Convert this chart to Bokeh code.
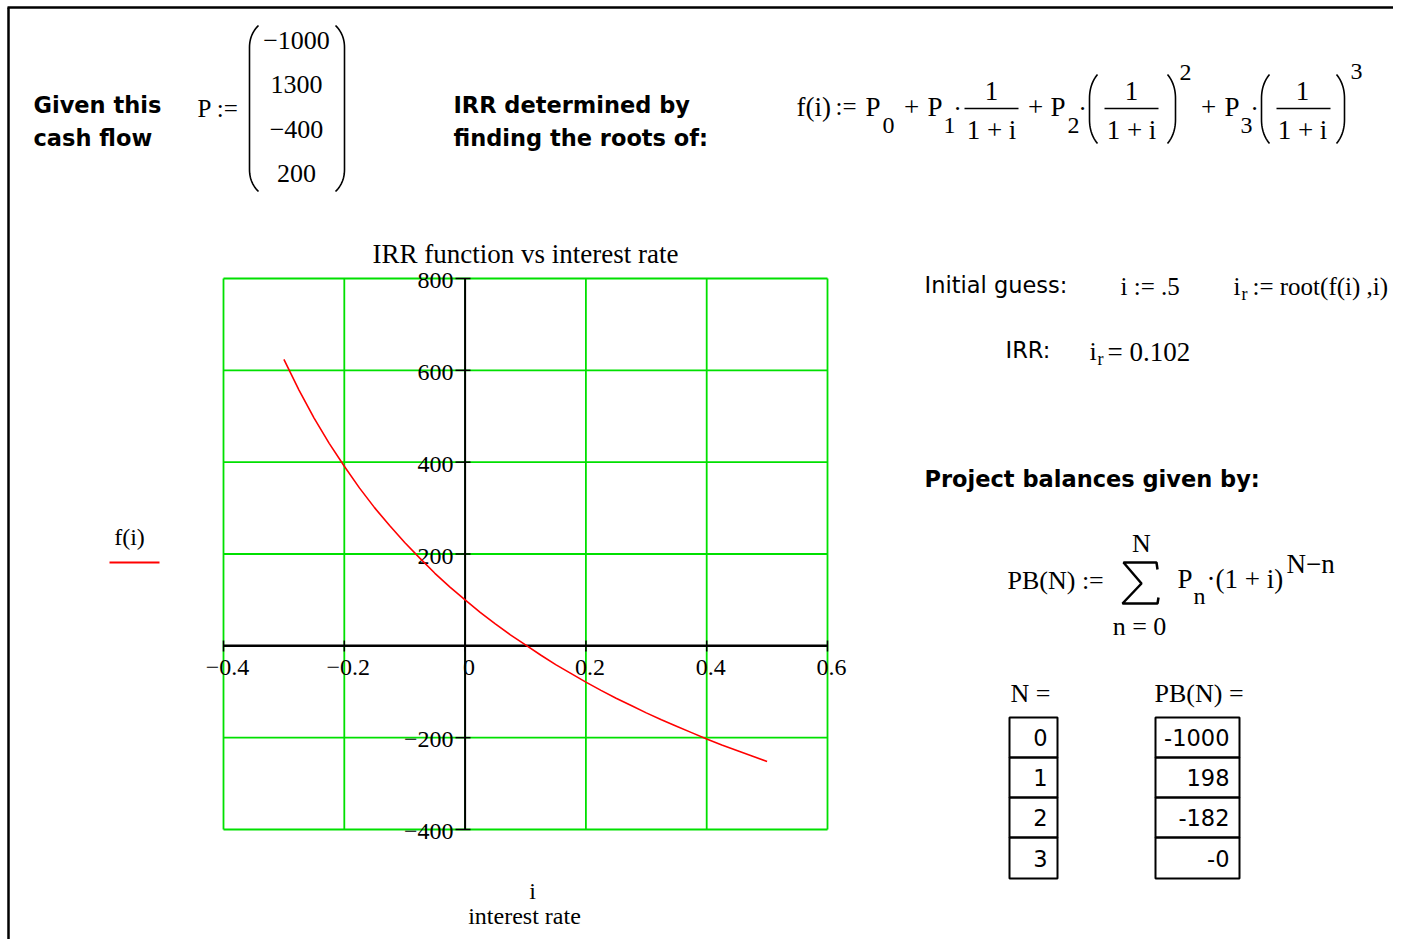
import numpy as np
from bokeh.plotting import figure
from bokeh.models import Range1d
from bokeh.core.properties import value
from bokeh.embed import file_html
from bokeh.resources import INLINE

# ---------------- data ----------------
cash_flow = [-1000, 1300, -400, 200]
cash_flow_labels = ["\u22121000", "1300", "\u2212400", "200"]

rate = [-0.300, -0.275, -0.250, -0.225, -0.200, -0.175, -0.150, -0.125,
        -0.100, -0.075, -0.050, -0.025, 0.000, 0.025, 0.050, 0.075,
        0.100, 0.125, 0.150, 0.175, 0.200, 0.225, 0.250, 0.275,
        0.300, 0.325, 0.350, 0.375, 0.400, 0.425, 0.450, 0.475, 0.500]
f_value = [624, 557, 496, 441, 391, 344, 301, 262,
           225, 191, 158, 128, 100, 73, 48, 24,
           2, -20, -41, -60, -79, -97, -114, -130,
           -146, -161, -175, -189, -203, -216, -228, -240, -252]

x_ticks = [-0.4, -0.2, 0.0, 0.2, 0.4, 0.6]
x_tick_labels = ["\u22120.4", "\u22120.2", "0", "0.2", "0.4", "0.6"]
y_ticks = [-400, -200, 0, 200, 400, 600, 800]
y_tick_labels = ["\u2212400", "\u2212200", "", "200", "400", "600", "800"]

periods = ["0", "1", "2", "3"]
balances = ["-1000", "198", "-182", "-0"]
irr_text = "0.102"
guess_text = ".5"

# ---------------- page / canvas ----------------
W, H = 1393, 939
OX, OY = 0, 0
SERIF = "Liberation Serif"
SANS = "DejaVu Sans"
GREEN = "#00e000"

p = figure(width=W, height=H,
           x_range=Range1d(OX, OX + W), y_range=Range1d(OY + H, OY),
           output_backend="svg", toolbar_location=None,
           x_axis_location=None, y_axis_location=None,
           min_border=0, outline_line_color=None,
           background_fill_color="white", border_fill_color="white")
p.grid.visible = False

# chart plot-area placement (pixels on page)
PL, PR, PT, PBOT = 223, 827, 278, 829
xmin, xmax = x_ticks[0], x_ticks[-1]
ymin, ymax = y_ticks[0], y_ticks[-1]
sx = (xmax - xmin) / (PR - PL)
sy = (ymax - ymin) / (PBOT - PT)
p.extra_x_ranges = {"rate": Range1d(xmin - (PL - OX) * sx, xmax + (OX + W - PR) * sx)}
p.extra_y_ranges = {"fval": Range1d(ymin - (OY + H - PBOT) * sy, ymax + (PT - OY) * sy)}


def T(x, y, s, size=26, font=SERIF, align="left", bold=False, color="black"):
    p.text(x=[x], y=[y], text=[s], text_font=value(font),
           text_font_size=f"{size}px", text_align=align,
           text_baseline="middle", text_color=color,
           text_font_style="bold" if bold else "normal")


def L(xs, ys, w=1.5, color="black"):
    p.line(x=list(xs), y=list(ys), line_color=color, line_width=w)


def paren(xl, y0, y1, w, h, side, lw=1.6):
    sg = 1 if side == "left" else -1
    t = np.linspace(0, 1, 14)
    tip = np.array([xl + sg * w, y0])
    ctl = np.array([xl, y0 + 0.4 * h])
    jnt = np.array([xl, y0 + h])
    top = [((1 - a) ** 2) * tip + 2 * (1 - a) * a * ctl + a * a * jnt for a in t]
    tipb = np.array([xl + sg * w, y1])
    ctlb = np.array([xl, y1 - 0.4 * h])
    jntb = np.array([xl, y1 - h])
    bot = [((1 - a) ** 2) * jntb + 2 * (1 - a) * a * ctlb + a * a * tipb for a in t]
    pts = top + bot
    L([q[0] for q in pts], [q[1] for q in pts], w=lw)


# border of the worksheet window
L([7, OX + W], [7, 7], w=2.5)
L([8, 8], [7, OY + H], w=2.5)

# ---------------- header ----------------
T(33, 104, "Given this", 22.5, SANS, bold=True)
T(33, 137, "cash flow", 22.5, SANS, bold=True)
T(197, 108, "P :=", 25)
paren(249, 25, 191, 9, 22, "left")
paren(344, 25, 191, 9, 22, "right")
for k, lab in enumerate(cash_flow_labels):
    T(296, [40, 84, 129, 173][k], lab, 26, align="center")

T(453, 104, "IRR determined by", 22.5, SANS, bold=True)
T(453, 137, "finding the roots of:", 22.5, SANS, bold=True)

# f(i) definition
T(796, 106, "f(i)", 27)
T(835, 106, ":=", 25)
T(865, 106, "P", 27)
T(882, 125, "0", 24)
T(911, 106, "+", 27, align="center")
T(927, 106, "P", 27)
T(943, 125, "1", 24)
T(957, 108, "\u00b7", 26, align="center")
T(991, 90, "1", 27, align="center")
L([964, 1018], [108, 108], w=1.5)
T(991, 129, "1 + i", 27, align="center")
T(1035, 106, "+", 27, align="center")
T(1050, 106, "P", 27)
T(1067, 125, "2", 24)
T(1082, 108, "\u00b7", 26, align="center")
paren(1089, 74, 143, 8, 24, "left")
T(1131, 90, "1", 27, align="center")
L([1104, 1158], [108, 108], w=1.5)
T(1131, 129, "1 + i", 27, align="center")
paren(1175, 74, 143, 8, 24, "right")
T(1185, 72, "2", 24, align="center")
T(1208, 106, "+", 27, align="center")
T(1224, 106, "P", 27)
T(1240, 125, "3", 24)
T(1254, 108, "\u00b7", 26, align="center")
paren(1261, 74, 143, 8, 24, "left")
T(1302, 90, "1", 27, align="center")
L([1276, 1330], [108, 108], w=1.5)
T(1302, 129, "1 + i", 27, align="center")
paren(1344, 74, 143, 8, 24, "right")
T(1356, 71, "3", 24, align="center")

# ---------------- chart ----------------
T(525, 253, "IRR function vs interest rate", 27, align="center")

nx, ny = len(x_ticks), len(y_ticks)
p.segment(x0=x_ticks, y0=[ymin] * nx, x1=x_ticks, y1=[ymax] * nx,
          x_range_name="rate", y_range_name="fval", line_color=GREEN, line_width=1.8)
p.segment(x0=[xmin] * ny, y0=y_ticks, x1=[xmax] * ny, y1=y_ticks,
          x_range_name="rate", y_range_name="fval", line_color=GREEN, line_width=1.8)

# crossing axes
p.segment(x0=[0], y0=[ymin], x1=[0], y1=[ymax], x_range_name="rate",
          y_range_name="fval", line_color="black", line_width=2)
p.segment(x0=[xmin], y0=[0], x1=[xmax], y1=[0], x_range_name="rate",
          y_range_name="fval", line_color="black", line_width=2.5)
p.segment(x0=[455] * ny, x1=[470] * ny, y0=y_ticks, y1=y_ticks,
          y_range_name="fval", line_color="black", line_width=1.5)
p.segment(x0=x_ticks, x1=x_ticks, y0=[640] * nx, y1=[651] * nx,
          x_range_name="rate", line_color="black", line_width=1.5)

p.text(x=[453] * ny, y=y_ticks, text=y_tick_labels, y_range_name="fval",
       text_font=value(SERIF), text_font_size="24px", text_align="right",
       text_baseline="middle", y_offset=2, text_color="black")
p.text(x=x_ticks, y=[667] * nx, text=x_tick_labels, x_range_name="rate",
       text_font=value(SERIF), text_font_size="24px", text_align="center",
       text_baseline="middle", x_offset=4, text_color="black")

p.line(x=rate, y=f_value, x_range_name="rate", y_range_name="fval",
       line_color="#ff0000", line_width=1.6)

# legend and axis label
T(129, 536, "f(i)", 24, align="center")
L([109, 159], [562, 562], w=2, color="#ff0000")
T(532, 890, "i", 24, align="center")
T(524, 915, "interest rate", 24, align="center")

# ---------------- right side ----------------
T(924, 284, "Initial guess:", 22.5, SANS)
T(1120, 286, "i := " + guess_text, 25)
T(1233, 286, "i", 25)
T(1241, 293, "r", 18)
T(1252, 286, ":= root(f(i) ,i)", 25)

T(1005, 349, "IRR:", 22.5, SANS)
T(1089, 351, "i", 26)
T(1097, 358, "r", 18)
T(1107, 351, "= " + irr_text, 27)

T(924, 478, "Project balances given by:", 22.5, SANS, bold=True)

T(1007, 580, "PB(N) :=", 26)
L([1157, 1156, 1123, 1141, 1122, 1157, 1158],
  [569, 562, 562, 583, 603, 603, 597], w=2.5)
T(1141, 543, "N", 26, align="center")
T(1139, 626, "n = 0", 26, align="center")
T(1177, 578, "P", 27)
T(1193, 595, "n", 24)
T(1206, 578, "\u00b7(1 + i)", 27)
T(1286, 563, "N\u2212n", 27)

T(1010, 693, "N  =", 26)
T(1154, 693, "PB(N)  =", 26)

rows = [717, 757, 797, 837, 878]
nr = len(periods)
p.quad(left=[1009] * nr, right=[1057] * nr, top=rows[:-1], bottom=rows[1:],
       fill_color=None, line_color="black", line_width=2)
p.quad(left=[1155] * nr, right=[1239] * nr, top=rows[:-1], bottom=rows[1:],
       fill_color=None, line_color="black", line_width=2)
centers = [(rows[k] + rows[k + 1]) / 2 for k in range(nr)]
p.text(x=[1047] * nr, y=centers, text=periods, text_font=value(SANS),
       text_font_size="22.5px", text_align="right", text_baseline="middle",
       text_color="black")
p.text(x=[1229] * nr, y=centers, text=balances, text_font=value(SANS),
       text_font_size="22.5px", text_align="right", text_baseline="middle",
       text_color="black")

open("out.html", "w").write(file_html(p, INLINE))
